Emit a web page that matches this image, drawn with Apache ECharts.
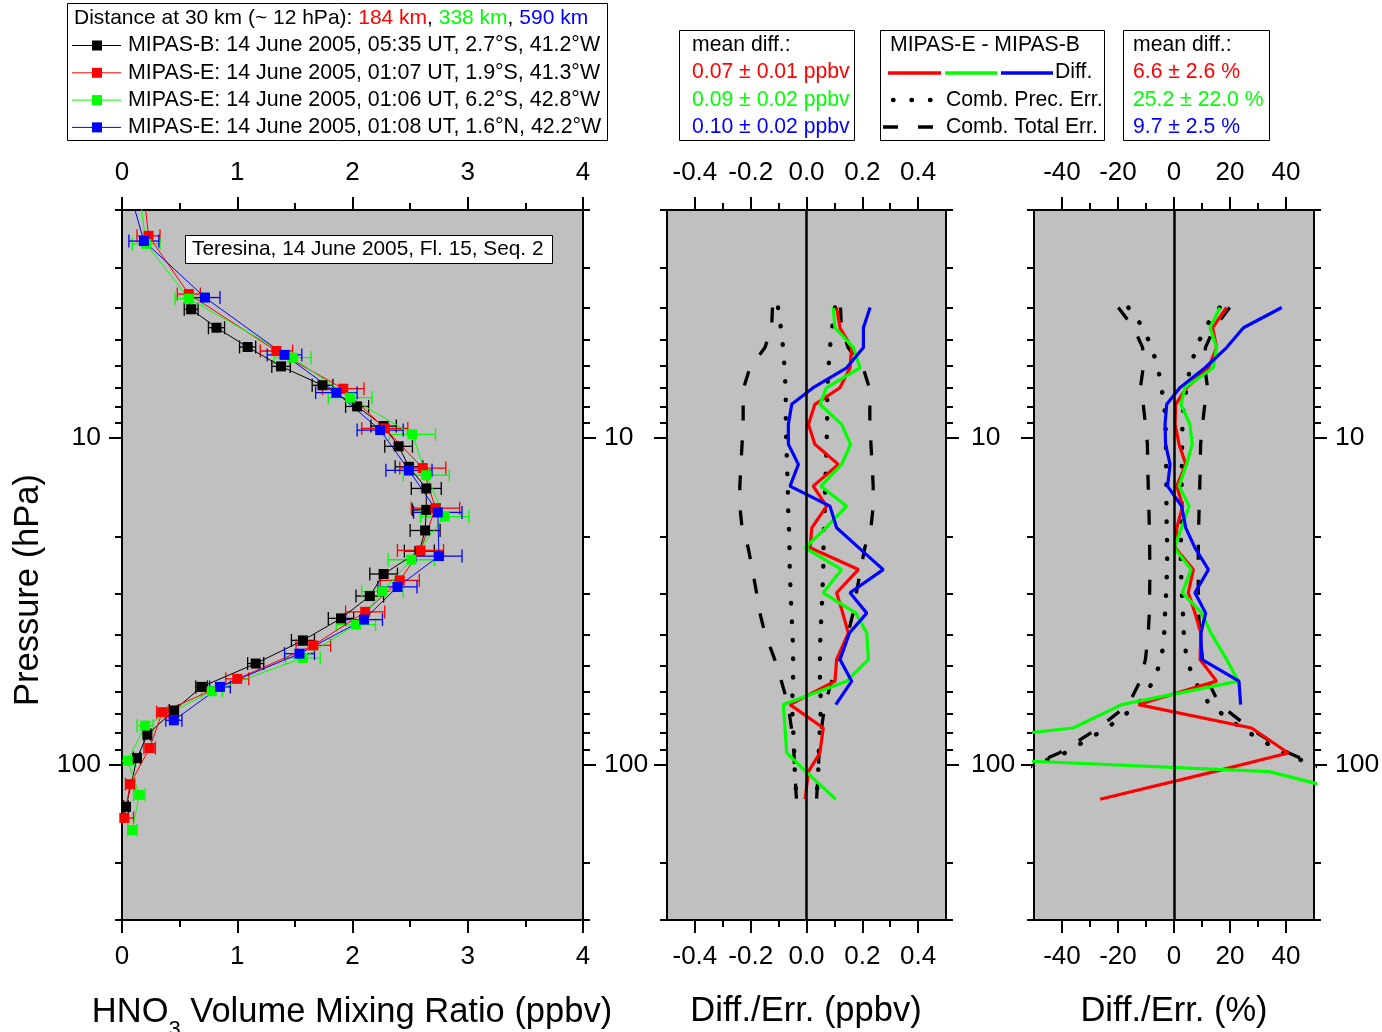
<!DOCTYPE html>
<html><head><meta charset="utf-8">
<script src="https://cdn.jsdelivr.net/npm/echarts@6/dist/echarts.min.js"></script>
<style>html,body{margin:0;padding:0;background:#fff}#c{width:1382px;height:1032px}</style>
</head><body><div id="c"></div>
<script>
// ---------------- DATA ----------------
// Panel 1: HNO3 VMR profiles (ppbv) vs pressure (hPa), with error half-widths
const pB   = [4.03,4.59,5.26,6.03,6.89,8.0,9.19,10.6,12.25,14.27,16.6,19.2,22.2,26.1,30.5,35.7,41.7,49.1,57.9,68.4,81.1,95.7,135];
const vmrB = [0.60,0.82,1.09,1.38,1.74,2.04,2.27,2.40,2.49,2.64,2.64,2.63,2.58,2.27,2.15,1.90,1.57,1.16,0.69,0.45,0.22,0.13,0.035];
const errB = [0.06,0.07,0.07,0.08,0.09,0.10,0.11,0.12,0.12,0.13,0.12,0.13,0.13,0.12,0.12,0.11,0.10,0.07,0.05,0.04,0.03,0.03,0.02];

const pE1   = [1.7,2.40,3.62,5.41,7.06,9.34,12.36,16.4,22.1,27.3,34.1,43.2,54.7,69.2,89.1,115,146];
const vmrE1 = [0.184,0.23,0.58,1.34,1.92,2.28,2.61,2.72,2.59,2.41,2.11,1.66,1.00,0.35,0.24,0.07,0.02];
const errE1 = [null,0.10,0.10,0.14,0.18,0.20,0.20,0.21,0.20,0.17,0.17,0.15,0.10,0.05,0.05,0.04,0.08];

const pE2   = [1.7,2.54,3.74,5.67,7.52,9.74,13.0,17.4,23.6,29.5,37.3,47.2,59.7,76.1,97.5,124,159];
const vmrE2 = [0.143,0.21,0.58,1.48,1.98,2.52,2.64,2.80,2.51,2.26,2.03,1.57,0.78,0.20,0.05,0.15,0.09];
const errE2 = [null,0.12,0.12,0.16,0.19,0.20,0.20,0.21,0.20,0.18,0.17,0.15,0.09,0.07,0.06,0.05,0.04];

const pE3   = [1.7,2.49,3.71,5.56,7.26,9.45,12.56,16.9,23.0,28.6,36.0,45.8,57.9,73.3];
const vmrE3 = [0.055,0.19,0.72,1.41,1.86,2.24,2.49,2.74,2.75,2.39,2.10,1.54,0.85,0.45];
const errE3 = [null,0.13,0.13,0.15,0.18,0.20,0.20,0.21,0.20,0.17,0.16,0.13,0.09,0.07];

// Panels 2 and 3: differences on a common pressure grid
const pD = [3.98,4.59,5.28,6.09,7.01,7.88,9.08,10.45,12.04,14.04,16.17,18.84,21.7,25.3,29.8,34.4,39.6,47.7,55.6,65.6,77.4,92.3,105.3,128];
// absolute differences (ppbv)
const diffRed   = [0.108,0.120,0.162,0.156,0.120,0.030,0.007,0.030,0.114,0.024,0.072,0.019,0.013,0.186,0.108,0.130,0.150,0.108,0.102,-0.059,0.060,0.048,0.007,-0.005];
const diffGreen = [0.096,0.102,0.168,0.192,0.072,0.048,0.126,0.158,0.126,0.052,0.144,0.069,-0.005,0.126,0.060,0.177,0.216,0.222,0.144,-0.083,-0.077,-0.071,-0.002,0.105];
const diffBlue  = [0.228,0.204,0.204,0.144,0.024,-0.053,-0.065,-0.065,-0.029,-0.059,0.084,0.108,0.188,0.275,0.156,0.216,0.154,0.120,0.162,0.105,null,null,null,null];
const precErr   = [0.102,0.092,0.084,0.079,0.075,0.074,0.074,0.072,0.070,0.067,0.066,0.063,0.061,0.060,0.057,0.054,0.050,0.048,0.048,0.052,0.048,0.044,0.042,0.036];
const totErr    = [0.122,0.125,0.149,0.203,0.225,0.227,0.227,0.231,0.235,0.239,0.239,0.231,0.209,0.194,0.179,0.167,0.149,0.114,0.090,0.066,0.054,0.045,0.042,0.036];
// relative differences (%)
const pctRed    = [18.8,13.8,15.2,12.3,4.5,0.6,0.4,1.8,4.2,1.0,3.1,1.0,0.4,6.9,5.1,7.5,9.6,9.3,15.2,-12.7,27.7,40.8,14.4,-26.4];
const pctGreen  = [16.4,12.9,15.2,14.0,3.9,2.5,5.7,6.5,4.5,1.8,5.4,2.7,0.1,6.1,3.0,9.9,13.2,18.8,23.0,-18.7,-36,-118,34,73];
const pctBlue   = [38.5,24.8,18.8,11.1,2.1,-2.6,-3.2,-3.0,-1.4,-2.3,2.7,4.2,7.5,12.3,7.5,11.3,9.6,9.9,23.2,23.8,null,null,null,null];
const precPct   = [16.3,11.0,8.0,5.7,4.5,3.5,3.0,2.9,2.8,2.7,2.7,2.6,2.4,2.5,2.8,3.2,3.5,4.5,7.4,12.7,24,39,56,60];
const totPct    = [19.9,14.4,11.2,11.0,12.0,11.0,10.2,9.5,9.4,9.2,9.0,8.8,8.7,8.6,8.7,8.8,9.2,10.2,12.1,16.3,27,41,56,60];

// tick values
const xTicks1 = [0,1,2,3,4],            xMinor1 = [0.5,1.5,2.5,3.5];
const xTicks2 = [-0.4,-0.2,0,0.2,0.4],  xMinor2 = [-0.3,-0.1,0.1,0.3];
const xTicks3 = [-40,-20,0,20,40],      xMinor3 = [-30,-10,10,30];
const pTicks  = [10,100];
const pMinor  = [2,3,4,5,6,7,8,9,20,30,40,50,60,70,80,90,200,300];

// ---------------- CHART ----------------
const FONT = '"Liberation Sans", Arial, Helvetica, sans-serif';
const RED='#ff0000', GREEN='#00ff00', BLUE='#0000ff', BLACK='#000000';
const LEG_FS = 21.2, TITLE_FS = 34.5;
const chart = echarts.init(document.getElementById('c'), null, {renderer:'canvas'});

const grids = [
  {left:122, top:210, width:461, height:710},
  {left:667, top:210, width:279, height:710},
  {left:1034, top:210, width:280, height:710}
];
const panels = [
  {min:0, max:4, major:xTicks1, minor:xMinor1, fmt:v=>String(Math.round(v))},
  {min:-0.5, max:0.5, major:xTicks2, minor:xMinor2, fmt:v=>(Math.abs(v)<1e-9?0:v).toFixed(1)},
  {min:-50, max:50, major:xTicks3, minor:xMinor3, fmt:v=>String(Math.round(v))}
];

const option = {
  animation:false, backgroundColor:'#ffffff',
  textStyle:{fontFamily:FONT},
  grid: grids.map(g=>Object.assign({show:true, backgroundColor:'#c0c0c0', borderWidth:0, containLabel:false, outerBoundsMode:'none'}, g)),
  xAxis:[], yAxis:[], series:[], graphic:{elements:[]}
};

const lineSt = {color:'#000', width:2};
panels.forEach((pn, gi) => {
  ['bottom','top'].forEach(pos => {
    option.xAxis.push({type:'value', gridIndex:gi, position:pos, min:pn.min, max:pn.max,
      axisLine:{show:true, onZero:false, lineStyle:lineSt},
      axisTick:{show:true, customValues:pn.major, length:13, inside:false, lineStyle:lineSt},
      axisLabel:{show:true, customValues:pn.major, formatter:pn.fmt, fontSize:26, color:'#000', margin:24, fontFamily:FONT},
      splitLine:{show:false}});
    option.xAxis.push({type:'value', gridIndex:gi, position:pos, min:pn.min, max:pn.max,
      axisLine:{show:false, onZero:false},
      axisTick:{show:true, customValues:pn.minor, length:7, inside:false, lineStyle:lineSt},
      axisLabel:{show:false}, splitLine:{show:false}});
  });
  ['left','right'].forEach(pos => {
    const showLab = (pos==='right') || gi===0;
    option.yAxis.push({type:'log', logBase:10, gridIndex:gi, position:pos, min:2, max:300, inverse:true,
      axisLine:{show:true, onZero:false, lineStyle:lineSt},
      axisTick:{show:true, customValues:pTicks, length:13, inside:false, lineStyle:lineSt},
      axisLabel:{show:showLab, customValues:pTicks, formatter:v=>String(Math.round(v)), fontSize:26.5, color:'#000',
                 margin:(gi===1 && pos==='right')?25:21, fontFamily:FONT},
      splitLine:{show:false}});
    option.yAxis.push({type:'log', logBase:10, gridIndex:gi, position:pos, min:2, max:300, inverse:true,
      axisLine:{show:false, onZero:false},
      axisTick:{show:true, customValues:pMinor, length:7, inside:false, lineStyle:lineSt},
      axisLabel:{show:false}, splitLine:{show:false}});
  });
});

function errBars(vmr, pres, err, color){
  const data = [];
  vmr.forEach((v,i)=>{ if(err[i]!=null) data.push([v, pres[i], err[i]]); });
  return {type:'custom', xAxisIndex:0, yAxisIndex:0, clip:true, silent:true, z:2, data, encode:{x:0,y:1},
    renderItem(params, api){
      const x=api.value(0), p=api.value(1), e=api.value(2);
      const a=api.coord([x-e,p]), b=api.coord([x+e,p]); const h=6.5;
      const st={stroke:color, lineWidth:1.3};
      return {type:'group', children:[
        {type:'line', shape:{x1:a[0],y1:a[1],x2:b[0],y2:b[1]}, style:st},
        {type:'line', shape:{x1:a[0],y1:a[1]-h,x2:a[0],y2:a[1]+h}, style:st},
        {type:'line', shape:{x1:b[0],y1:b[1]-h,x2:b[0],y2:b[1]+h}, style:st}
      ]};
    }};
}
function profile(vmr, pres, color){
  return {type:'line', xAxisIndex:0, yAxisIndex:0, data:vmr.map((v,i)=>[v,pres[i]]), clip:true, silent:true, z:3,
    symbol:'rect', symbolSize:10, showSymbol:true, showAllSymbol:true,
    lineStyle:{color, width:1}, itemStyle:{color}, emphasis:{disabled:true}};
}
[[vmrB,pB,errB,BLACK],[vmrE1,pE1,errE1,RED],[vmrE2,pE2,errE2,GREEN],[vmrE3,pE3,errE3,BLUE]].forEach(s=>{
  option.series.push(errBars(s[0],s[1],s[2],s[3]));
  option.series.push(profile(s[0],s[1],s[3]));
});

function diffLine(vals, gi, color, style, width, z){
  return {type:'line', xAxisIndex:gi*4, yAxisIndex:gi*4, clip:true, silent:true, z:z||3,
    data: pD.map((p,i)=>[vals[i]==null?null:vals[i], p]).filter(d=>d[0]!=null),
    symbol:'none', lineStyle:Object.assign({color, width}, style||{}), emphasis:{disabled:true}};
}
const DOT = {type:[0.5,18], cap:'round'};
const DASH = {type:[15,20], cap:'butt'};
[[1,[diffRed,diffGreen,diffBlue],precErr,totErr],[2,[pctRed,pctGreen,pctBlue],precPct,totPct]].forEach(([gi,ds,pe,te])=>{
  // zero line
  option.series.push({type:'line', xAxisIndex:gi*4, yAxisIndex:gi*4, data:[], silent:true, z:1,
    markLine:{silent:true, symbol:'none', label:{show:false}, animation:false,
      lineStyle:{color:'#000', width:2.5, type:'solid'}, data:[{xAxis:0}]}});
  option.series.push(diffLine(pe.map(v=>-v), gi, BLACK, DOT, 4.4, 2));
  option.series.push(diffLine(pe, gi, BLACK, DOT, 4.4, 2));
  option.series.push(diffLine(te.map(v=>-v), gi, BLACK, DASH, 3.3, 2));
  option.series.push(diffLine(te, gi, BLACK, DASH, 3.3, 2));
  option.series.push(diffLine(ds[0], gi, RED, null, 3.2, 3));
  option.series.push(diffLine(ds[1], gi, GREEN, null, 3.2, 3));
  option.series.push(diffLine(ds[2], gi, BLUE, null, 3.2, 3));
});

// ---------------- TEXT / LEGENDS ----------------
const G = option.graphic.elements;
function txt(x,y,text,opts){ G.push(Object.assign({type:'text', x, y, silent:true, z:100,
  style:Object.assign({text, fontSize:LEG_FS, fontFamily:FONT, fill:'#000', align:'left', verticalAlign:'middle'}, (opts&&opts.style)||{})},
  opts&&opts.top||{})); }
function box(x,y,w,h){ G.push({type:'rect', silent:true, z:90, shape:{x:x+0.5,y:y+0.5,width:w,height:h}, style:{fill:'#fff', stroke:'#000', lineWidth:1}}); }
function seg(x1,y1,x2,y2,color,width,dash,cap){ G.push({type:'line', silent:true, z:100, shape:{x1,y1,x2,y2},
  style:{stroke:color, lineWidth:width, lineDash:dash||null, lineCap:cap||'butt'}}); }

// axis titles
txt(28, 590, 'Pressure (hPa)', {style:{fontSize:TITLE_FS, align:'center'}, top:{rotation:Math.PI/2}});
G.push({type:'text', x:352, y:1018, silent:true, z:100, style:{
  text:'{a|HNO}{s|3}{a| Volume Mixing Ratio (ppbv)}', align:'center', verticalAlign:'middle', fontFamily:FONT,
  rich:{a:{fontSize:TITLE_FS, fontFamily:FONT, fill:'#000', lineHeight:34, verticalAlign:'top'},
        s:{fontSize:22, fontFamily:FONT, fill:'#000', lineHeight:46, verticalAlign:'bottom'}}}});
txt(806, 1011, 'Diff./Err. (ppbv)', {style:{fontSize:TITLE_FS, align:'center'}});
txt(1174, 1011, 'Diff./Err. (%)', {style:{fontSize:TITLE_FS, align:'center'}});

// legend box 1
box(67,3,540,137);
G.push({type:'text', x:74, y:18, silent:true, z:100, style:{
  text:'{k|Distance at 30 km (~ 12 hPa): }{r|184 km}{k|, }{g|338 km}{k|, }{b|590 km}', verticalAlign:'middle', fontFamily:FONT,
  rich:{k:{fill:'#000',fontSize:21,fontFamily:FONT}, r:{fill:RED,fontSize:21,fontFamily:FONT},
        g:{fill:GREEN,fontSize:21,fontFamily:FONT}, b:{fill:BLUE,fontSize:21,fontFamily:FONT}}}});
const legRows = [
  [BLACK,'MIPAS-B: 14 June 2005, 05:35 UT, 2.7°S, 41.2°W'],
  [RED,  'MIPAS-E: 14 June 2005, 01:07 UT, 1.9°S, 41.3°W'],
  [GREEN,'MIPAS-E: 14 June 2005, 01:06 UT, 6.2°S, 42.8°W'],
  [BLUE, 'MIPAS-E: 14 June 2005, 01:08 UT, 1.6°N, 42.2°W']
];
legRows.forEach((r,i)=>{
  const y = 45.5 + i*27.3;
  seg(72,y,121,y,r[0],1);
  G.push({type:'rect', silent:true, z:101, shape:{x:92,y:y-5,width:10,height:10}, style:{fill:r[0]}});
  txt(128,y,r[1],{style:{fontSize:21.4}});
});

// legend box 2
box(679,30,175,110);
txt(692,45,'mean diff.:');
txt(692,72,'0.07 ± 0.01 ppbv',{style:{fill:RED}});
txt(692,100,'0.09 ± 0.02 ppbv',{style:{fill:GREEN}});
txt(692,127,'0.10 ± 0.02 ppbv',{style:{fill:BLUE}});

// legend box 3
box(880,30,224,110);
txt(890,45,'MIPAS-E - MIPAS-B');
seg(888,73,941,73,RED,3.5); seg(945,73,997,73,GREEN,3.5); seg(1001,73,1053,73,BLUE,3.5);
txt(1055,72,'Diff.');
seg(893,100,935,100,BLACK,4.4,[0.5,18],'round');
txt(946,100,'Comb. Prec. Err.');
seg(883,127,936,127,BLACK,3.3,[15,20],'butt');
txt(946,127,'Comb. Total Err.');

// legend box 4
box(1123,30,146,110);
txt(1133,45,'mean diff.:');
txt(1133,72,'6.6 ± 2.6 %',{style:{fill:RED}});
txt(1133,100,'25.2 ± 22.0 %',{style:{fill:GREEN}});
txt(1133,127,'9.7 ± 2.5 %',{style:{fill:BLUE}});

// location box
box(185,235,367,28);
txt(192,249.5,'Teresina, 14 June 2005, Fl. 15, Seq. 2',{style:{fontSize:20.8}});

chart.setOption(option);
</script></body></html>
